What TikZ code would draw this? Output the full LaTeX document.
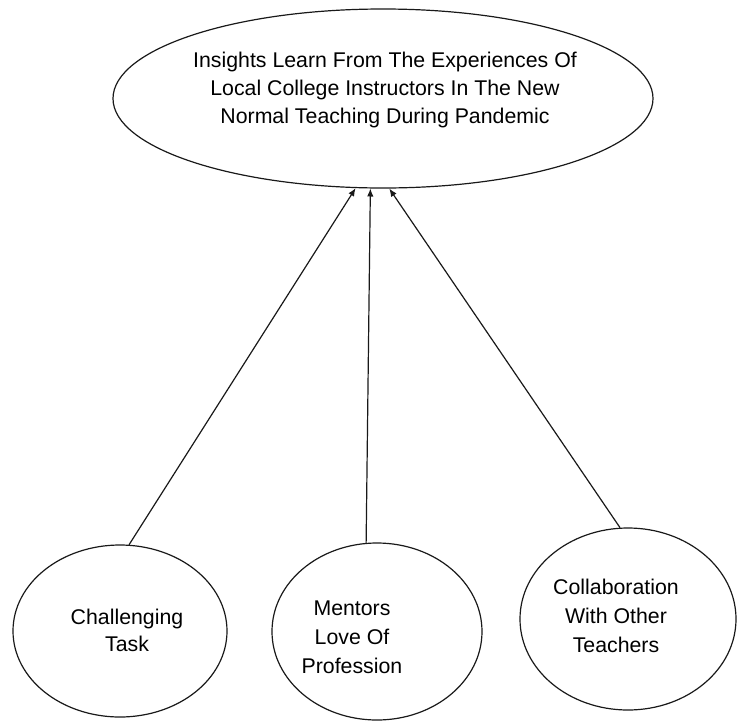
\documentclass[tikz,border=0pt]{standalone}
\usepackage{fontspec}
\setmainfont{Liberation Sans}
\usetikzlibrary{shapes.geometric,arrows.meta}
\begin{document}
\begin{tikzpicture}[x=1pt,y=-1pt,
  bubble/.style={draw=black!90,line width=1.2pt,ellipse,inner sep=0pt},
  caption/.style={align=center,font=\fontsize{21.3}{28}\selectfont,text=black,inner sep=0pt},
  link/.style={draw=black!90,line width=1.2pt,-{Latex[length=8pt,width=6.5pt]}}]
  \useasboundingbox (0,0) rectangle (737,721);
  % outcome at the top
  \node[bubble,minimum width=540pt,minimum height=179pt] (goal) at (383,98.5) {};
  \node[caption] (goaltext) at (385,90) {Insights Learn From The Experiences Of\\Local College Instructors In The New\\Normal Teaching During Pandemic};
  % contributing themes
  \node[bubble,minimum width=214pt,minimum height=172pt] (task) at (120,631) {};
  \node[caption,font=\fontsize{21.3}{27}\selectfont] (tasktext) at (127,630.5) {Challenging\\Task};
  \node[bubble,minimum width=210pt,minimum height=177pt] (love) at (377,631.5) {};
  \node[caption,font=\fontsize{21.3}{29}\selectfont] (lovetext) at (352,637) {Mentors\\Love Of\\Profession};
  \node[bubble,minimum width=216pt,minimum height=182pt] (collab) at (628,619) {};
  \node[caption,font=\fontsize{21.3}{29}\selectfont] (collabtext) at (616,616) {Collaboration\\With Other\\Teachers};
  % links
  \draw[link] (task.84.7) -- (goal.-107.6);
  \draw[link] (love.97.8) -- (goal.-98.6);
  \draw[link] (collab.95) -- (goal.-86.2);
\end{tikzpicture}
\end{document}
